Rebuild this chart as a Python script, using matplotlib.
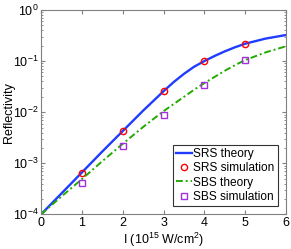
import matplotlib
matplotlib.use("Agg")
import matplotlib.pyplot as plt
import numpy as np

plt.rcParams['font.family'] = ['Liberation Sans', 'DejaVu Sans']
plt.rcParams['mathtext.fontset'] = 'custom'
plt.rcParams['mathtext.rm'] = 'Liberation Sans'

# theory curves (log10 values)
theory_x = [0, 0.5, 1, 1.5, 2, 2.5, 3, 3.25, 3.5, 3.75, 4, 4.25, 4.5, 4.75, 5, 5.5, 6]
srs_theory_log = [-4, -3.59, -3.18, -2.77, -2.37, -1.97, -1.59, -1.41, -1.25, -1.11, -1.0,
                  -0.90, -0.81, -0.73, -0.66, -0.56, -0.49]
sbs_theory_log = [-4, -3.65, -3.31, -2.96, -2.62, -2.29, -1.98, -1.84, -1.70, -1.56, -1.43,
                  -1.31, -1.19, -1.08, -0.98, -0.83, -0.71]

sim_x = [1, 2, 3, 4, 5]
srs_sim = [6.5e-4, 4.3e-3, 0.026, 0.10, 0.22]
sbs_sim = [4.1e-4, 2.2e-3, 0.0089, 0.034, 0.107]

fig = plt.figure(figsize=(2.91, 2.49), dpi=100)
ax = fig.add_axes([0.141, 0.139, 0.842, 0.821])

ax.semilogy(theory_x, 10 ** np.array(srs_theory_log), '-', color='#1f3cff', lw=1.7,
            label='SRS theory')
ax.semilogy(sim_x, srs_sim, 'o', mfc='none', mec='#ff0000', ms=4.5, mew=1.0,
            label='SRS simulation')
ax.semilogy(theory_x, 10 ** np.array(sbs_theory_log), color='#22aa00', lw=1.4,
            ls=(0, (3.5, 1.5, 1, 1.5)), label='SBS theory')
ax.semilogy(sim_x, sbs_sim, 's', mfc='none', mec='#a030e0', ms=3.8, mew=1.0,
            label='SBS simulation')

ax.set_xlim(0, 6)
ax.set_ylim(1e-4, 1)
ax.set_xticks([0, 1, 2, 3, 4, 5, 6])
ax.tick_params(which='both', direction='in', top=True, right=True, labelsize=9,
               color='#808080', pad=2)
ax.tick_params(which='major', length=3)
ax.tick_params(which='minor', length=1.5)
for s in ax.spines.values():
    s.set_color('#808080')

ax.set_xlabel('I (10$^{15}$ W/cm$^2$)', fontsize=9, labelpad=1)
ax.set_ylabel('Reflectivity', fontsize=9)
ax.yaxis.set_label_coords(-0.108, 0.5)

leg = ax.legend(loc='lower right', fontsize=8.6, frameon=True, fancybox=False,
                edgecolor='black', handlelength=1.35, handletextpad=0.15,
                borderpad=0.25, labelspacing=0.2, borderaxespad=0.7)
leg.get_frame().set_linewidth(0.8)

fig.savefig('out.png', dpi=100)
